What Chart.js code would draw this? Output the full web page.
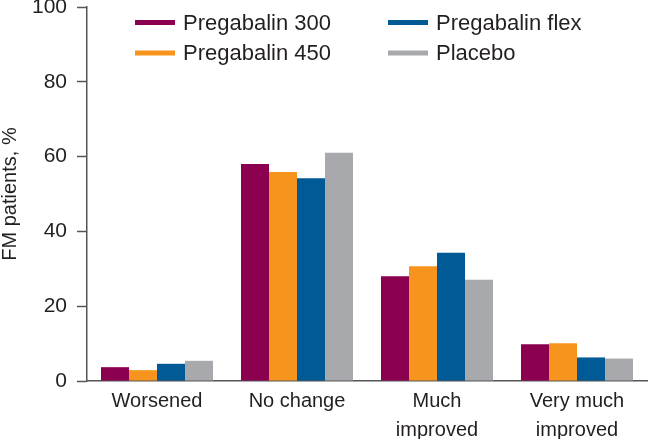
<!DOCTYPE html>
<html>
<head>
<meta charset="utf-8">
<style>
  html, body { margin: 0; padding: 0; background: #ffffff; }
  #wrap { width: 650px; height: 439px; position: relative; }
</style>
<script src="https://cdn.jsdelivr.net/npm/chart.js@4/dist/chart.umd.min.js"></script>
</head>
<body>
<div id="wrap"><canvas id="c" width="650" height="439"></canvas></div>
<script>
const categories = [['Worsened'], ['No change'], ['Much', 'improved'], ['Very much', 'improved']];
const pregabalin300 = [3.7, 58.0, 28.0, 9.8];
const pregabalin450 = [2.9, 55.9, 30.7, 10.1];
const pregabalinFlex = [4.6, 54.2, 34.3, 6.3];
const placebo = [5.4, 61.0, 27.1, 6.0];
const seriesNames = ['Pregabalin 300', 'Pregabalin 450', 'Pregabalin flex', 'Placebo'];
const seriesColors = ['#8C0050', '#F7941D', '#005A96', '#A7A9AC'];
const yTicks = [0, 20, 40, 60, 80, 100];

const FONT = '"Liberation Sans", Arial, Helvetica, sans-serif';
const TEXT = '#231F20';
const AXIS = '#555555';

const legendPlugin = {
  id: 'colLegend',
  afterDraw(chart) {
    const ctx = chart.ctx;
    const ds = chart.data.datasets;
    const cols = [135, 388];
    const rows = [22.5, 53];
    ctx.save();
    ctx.font = '22px ' + FONT;
    ctx.textBaseline = 'middle';
    ctx.textAlign = 'left';
    ds.forEach((d, i) => {
      const col = Math.floor(i / 2);
      const row = i % 2;
      const x = cols[col];
      const y = rows[row];
      ctx.strokeStyle = d.backgroundColor;
      ctx.lineWidth = 5;
      ctx.beginPath();
      ctx.moveTo(x, y);
      ctx.lineTo(x + 40, y);
      ctx.stroke();
      ctx.fillStyle = TEXT;
      ctx.fillText(d.label, x + 48, y + 1);
    });
    ctx.restore();
  }
};

const datasets = [pregabalin300, pregabalin450, pregabalinFlex, placebo].map((vals, i) => ({
  label: seriesNames[i],
  data: vals,
  backgroundColor: seriesColors[i],
  borderWidth: 0,
  barPercentage: 1.0,
  categoryPercentage: 0.8
}));

new Chart(document.getElementById('c'), {
  type: 'bar',
  data: { labels: categories, datasets: datasets },
  options: {
    responsive: false,
    animation: false,
    devicePixelRatio: 1,
    layout: { padding: { top: 7, right: 3, left: 0, bottom: 0 } },
    plugins: {
      legend: { display: false },
      tooltip: { enabled: false }
    },
    scales: {
      x: {
        grid: { display: false, drawTicks: false },
        border: { display: true, color: AXIS, width: 1.5 },
        ticks: {
          color: TEXT,
          font: { family: FONT, size: 20, lineHeight: 1.45 },
          padding: 6,
          maxRotation: 0,
          autoSkip: false
        },
        afterFit(scale) { scale.height = 58; scale.paddingLeft = 0; scale.paddingRight = 0; }
      },
      y: {
        min: 0,
        max: 100,
        afterBuildTicks(scale) { scale.ticks = yTicks.map(v => ({ value: v })); },
        grid: { display: true, drawOnChartArea: false, drawTicks: true, tickLength: 10, tickColor: AXIS, tickWidth: 1.5 },
        border: { display: true, color: AXIS, width: 1.5 },
        ticks: {
          color: TEXT,
          font: { family: FONT, size: 21 },
          padding: 10
        },
        title: {
          display: true,
          text: 'FM patients, %',
          color: TEXT,
          font: { family: FONT, size: 20, lineHeight: 1.0 },
          padding: { top: 0, bottom: 0 }
        },
        afterFit(scale) { scale.width = 87; scale.paddingTop = 0; scale.paddingBottom = 0; }
      }
    }
  },
  plugins: [legendPlugin]
});
</script>
</body>
</html>
